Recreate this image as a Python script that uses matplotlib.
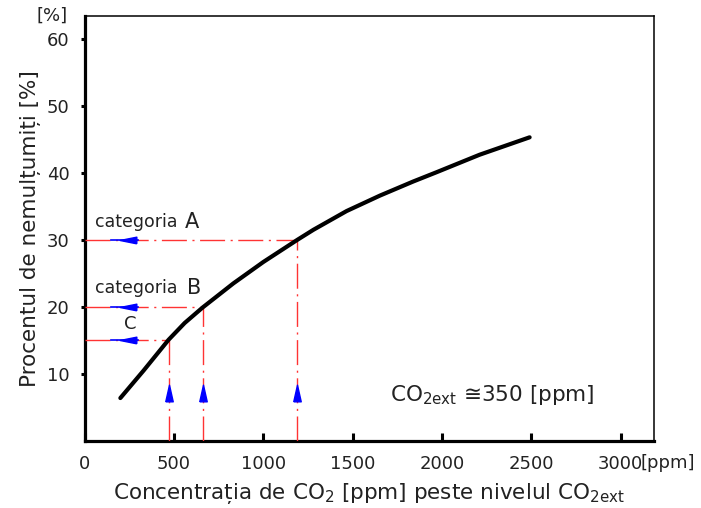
import numpy as np
import matplotlib
matplotlib.use('Agg')
import matplotlib.pyplot as plt

# curve: CO2 above outdoor level [ppm] vs % dissatisfied
co2_ppm = [200, 330, 470, 560, 660, 832, 1000, 1190, 1280, 1466, 1652, 1838, 1970, 2210, 2490]
dissatisfied = [6.4, 10.5, 15.1, 17.6, 19.9, 23.5, 26.7, 30.0, 31.5, 34.3, 36.6, 38.7, 40.1, 42.7, 45.3]

# categories (level, ppm where the curve crosses)
cat_names = ['A', 'B', 'C']
cat_pct = [30, 20, 15]
cat_ppm = [1190, 660, 470]

x_ticks = [0, 500, 1000, 1500, 2000, 2500, 3000]
y_ticks = [10, 20, 30, 40, 50, 60]

txt_col = '#222222'
red = '#ff3333'

fig = plt.figure(figsize=(7.01, 5.08), dpi=100)
ax = fig.add_axes([0.1207, 0.132, 0.812, 0.8365])

ax.plot(co2_ppm, dissatisfied, color='black', lw=3, solid_capstyle='round',
        solid_joinstyle='round', zorder=5)

# guide lines
for p, c in zip(cat_pct, cat_ppm):
    ax.plot([0, c], [p, p], color=red, lw=1, dashes=(18, 4, 1.5, 4), zorder=3)
    ax.plot([c, c], [0, p], color=red, lw=1, dashes=(18, 4, 1.5, 4), zorder=3)

# blue arrow heads
left_arrow = [(1, -0.4), (1, 0.4), (-1, 0), (1, -0.4)]
up_arrow = [(-0.45, -1), (0.45, -1), (0, 1), (-0.45, -1)]
arrow_x = 240
arrow_y = 7.2
for p, c in zip(cat_pct, cat_ppm):
    ax.plot([150, 300], [p, p], color='blue', lw=1.2, zorder=4)
    ax.plot(arrow_x, p, marker=left_arrow, markersize=12, color='blue', mec='blue', zorder=6)
    ax.plot(c, arrow_y, marker=up_arrow, markersize=12, color='blue', mec='blue', zorder=6)

# labels for categories
ax.text(58, 32.7, 'categoria', fontsize=12.5, color=txt_col, va='center', ha='left')
ax.text(563, 32.7, cat_names[0], fontsize=15, color=txt_col, va='center', ha='left')
ax.text(58, 22.8, 'categoria', fontsize=12.5, color=txt_col, va='center', ha='left')
ax.text(573, 22.8, cat_names[1], fontsize=15, color=txt_col, va='center', ha='left')
ax.text(254, 17.4, cat_names[2], fontsize=13, color=txt_col, va='center', ha='center')

ax.text(1710, 6.9, r'CO$_{\mathregular{2ext}}$ ≅350 [ppm]', fontsize=15.5, color=txt_col,
        va='center', ha='left')

ax.set_xlim(0, 3185)
ax.set_ylim(0, 63.4)
ax.set_xticks(x_ticks)
ax.set_yticks(y_ticks)
ax.set_xticklabels([str(v) for v in x_ticks], fontsize=13, color=txt_col)
ax.set_yticklabels([str(v) for v in y_ticks], fontsize=13, color=txt_col)
ax.tick_params(axis='x', direction='in', length=6, width=2.2, pad=10)
ax.tick_params(axis='y', direction='out', length=3, width=2.2, pad=8)

for s in ['left', 'bottom']:
    ax.spines[s].set_linewidth(2.3)
for s in ['top', 'right']:
    ax.spines[s].set_linewidth(1.1)

ax.set_xlabel(r'Concentrația de CO$_{\mathregular{2}}$ [ppm] peste nivelul CO$_{\mathregular{2ext}}$',
              fontsize=15.5, color=txt_col, labelpad=6)
ax.set_ylabel('Procentul de nemulțumiți [%]', fontsize=15.5, color=txt_col, labelpad=4)

ax.text(-0.057, 1.001, '[%]', transform=ax.transAxes, fontsize=13, color=txt_col,
        ha='center', va='center')
ax.text(0.977, -0.052, '[ppm]', transform=ax.transAxes, fontsize=13, color=txt_col,
        ha='left', va='center')

fig.savefig('out.png', dpi=100)
